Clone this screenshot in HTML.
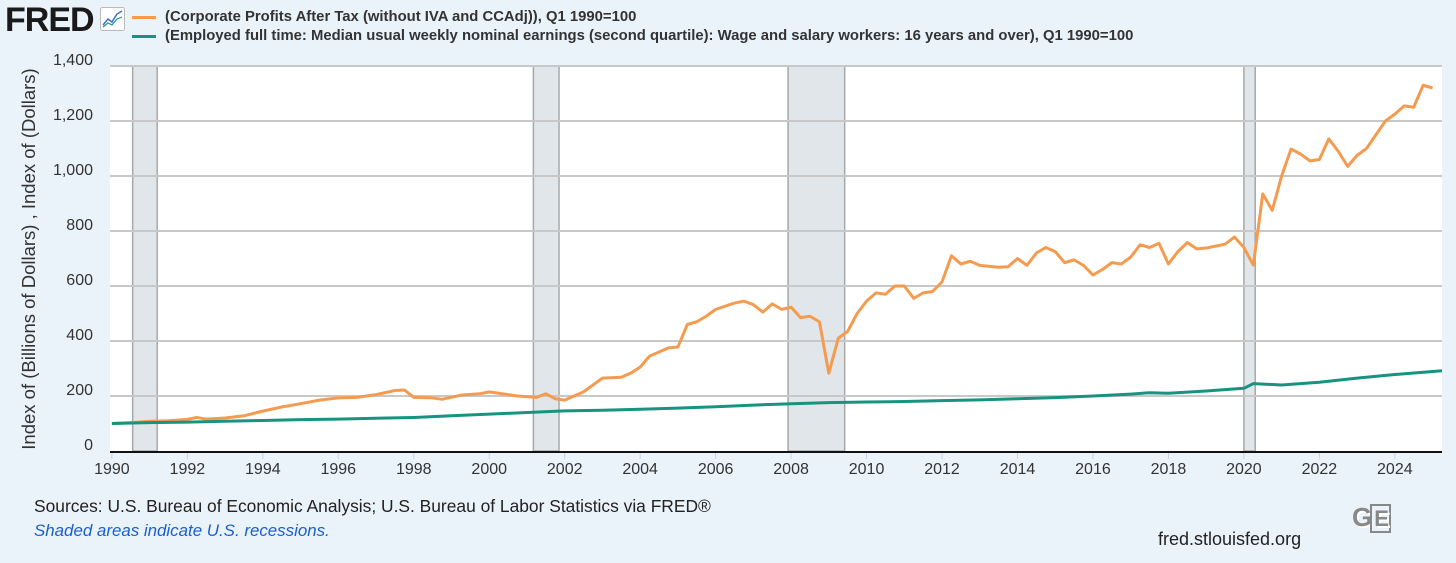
<!DOCTYPE html>
<html><head><meta charset="utf-8"><style>
body{margin:0;width:1456px;height:563px;background:#eaf2fa;font-family:"Liberation Sans",sans-serif;overflow:hidden;position:relative}
.t{position:absolute;white-space:nowrap}
</style></head><body>
<div class="t" style="left:5px;top:1px;font-size:34px;font-weight:bold;letter-spacing:-1px;color:#1a1a1a">FRED</div>
<svg class="t" style="left:100px;top:7px" width="25" height="24"><rect x="0.5" y="0.5" width="24" height="23" rx="2" fill="#fff" stroke="#bbb"/><polyline points="3,18 8,12 12,15 17,7 22,4" fill="none" stroke="#3b6fd1" stroke-width="1.5"/><polyline points="3,20 8,16 12,18 17,12 22,10" fill="none" stroke="#1f9a7a" stroke-width="1.2"/></svg>
<div class="t" style="left:132px;top:9px;font-size:14.85px;font-weight:bold;color:#333"><span style="display:inline-block;width:24px;height:3px;background:#f59b50;vertical-align:middle;margin-right:9px"></span>(Corporate Profits After Tax (without IVA and CCAdj)), Q1 1990=100</div>
<div class="t" style="left:132px;top:28px;font-size:14.85px;font-weight:bold;color:#333"><span style="display:inline-block;width:24px;height:3px;background:#17937f;vertical-align:middle;margin-right:9px"></span>(Employed full time: Median usual weekly nominal earnings (second quartile): Wage and salary workers: 16 years and over), Q1 1990=100</div>
<div class="t" style="left:29px;top:259px;font-size:18.5px;color:#333;transform:translate(-50%,-50%) rotate(-90deg)">Index of (Billions of Dollars) , Index of (Dollars)</div>
<svg id="chart" class="t" style="left:0;top:0" width="1456" height="480"></svg>
<div class="t" style="left:34px;top:496px;font-size:17.4px;color:#222">Sources: U.S. Bureau of Economic Analysis; U.S. Bureau of Labor Statistics via FRED®</div>
<div class="t" style="left:34px;top:521px;font-size:16.9px;color:#1a5fd0;font-style:italic">Shaded areas indicate U.S. recessions.</div>
<div class="t" style="left:1158px;top:529px;font-size:18px;color:#222">fred.stlouisfed.org</div>
<div class="t" style="left:1352px;top:502px;font-size:26px;font-weight:bold;color:#888;text-shadow:2px 2px 0 #fff;letter-spacing:-2px">G<span style="border:2px solid #888;padding:0 2px;font-size:22px">E</span></div>
<script>
const yTicks=[0,200,400,600,800,1000,1200,1400];
const yTickLabels=["0","200","400","600","800","1,000","1,200","1,400"];
const xTicks=[1990,1992,1994,1996,1998,2000,2002,2004,2006,2008,2010,2012,2014,2016,2018,2020,2022,2024];
const recessionStarts=[1990.55,2001.17,2007.92,2020.0];
const recessionEnds=[1991.2,2001.85,2009.42,2020.3];
const profitDates=[1990,1990.5,1991,1991.5,1992,1992.25,1992.5,1993,1993.5,1994,1994.5,1995,1995.5,1996,1996.5,1997,1997.5,1997.75,1998,1998.5,1998.75,1999.25,1999.75,2000,2000.5,2000.75,2001.25,2001.5,2001.75,2002,2002.5,2003,2003.5,2003.75,2004,2004.25,2004.75,2005,2005.25,2005.5,2005.75,2006,2006.5,2006.75,2007,2007.25,2007.5,2007.75,2008,2008.25,2008.5,2008.75,2009,2009.25,2009.5,2009.75,2010,2010.25,2010.5,2010.75,2011,2011.25,2011.5,2011.75,2012,2012.25,2012.5,2012.75,2013,2013.5,2013.75,2014,2014.25,2014.5,2014.75,2015,2015.25,2015.5,2015.75,2016,2016.25,2016.5,2016.75,2017,2017.25,2017.5,2017.75,2018,2018.25,2018.5,2018.75,2019,2019.25,2019.5,2019.75,2020,2020.25,2020.5,2020.75,2021,2021.25,2021.5,2021.75,2022,2022.25,2022.5,2022.75,2023,2023.25,2023.5,2023.75,2024,2024.25,2024.5,2024.75,2025];
const profitValues=[100,103,108,110,115,122,116,120,128,145,160,172,185,193,195,205,220,222,195,193,188,203,208,215,205,200,195,208,190,185,215,265,268,283,305,345,375,378,460,470,490,515,538,545,532,505,535,515,523,485,490,470,283,410,435,500,545,575,570,600,600,555,575,580,615,710,680,690,675,668,670,700,675,720,740,725,685,695,675,640,660,685,680,705,750,740,755,680,725,758,735,738,745,752,778,740,676,935,875,1000,1098,1080,1055,1060,1135,1090,1035,1075,1100,1150,1200,1225,1255,1250,1330,1320];
const wageDates=[1990,1991,1992,1993,1994,1995,1996,1997,1998,1999,2000,2001,2002,2003,2004,2005,2006,2007,2008,2009,2010,2011,2012,2013,2014,2015,2016,2017,2017.5,2018,2019,2020,2020.25,2021,2022,2023,2024,2025.25];
const wageValues=[100,103,105,108,111,114,116,119,122,128,134,140,146,148,152,156,161,167,172,176,178,180,183,186,190,194,200,207,212,210,218,228,245,240,250,265,278,292];
const L=110,R=1442,T=66,B=451,X0=1989.95,X1=2025.25;
const xs=v=>L+(v-X0)/(X1-X0)*(R-L);
const ys=v=>B-v/1400*(B-T);
const svg=document.getElementById('chart');
const NS='http://www.w3.org/2000/svg';
function mk(tag,a){const e=document.createElementNS(NS,tag);for(const k in a)e.setAttribute(k,a[k]);svg.appendChild(e);return e;}
const bg=mk('rect',{x:L,y:T,width:R-L,height:B-T,fill:'#fff'});


recessionStarts.forEach((s,i)=>{
 const r=mk('rect',{x:xs(s),y:T,width:xs(recessionEnds[i])-xs(s),height:B-T,fill:'#e1e6eb',stroke:'#a8a8a8','stroke-width':1.5});
 
 
});
yTicks.forEach((v,i)=>{
 if(v>0){const g=mk('line',{x1:L,x2:R,y1:ys(v),y2:ys(v),stroke:'#c8c8c8','stroke-width':2});
 
 }
 const t=mk('text',{x:93,y:ys(v)-1,'text-anchor':'end','font-size':16,fill:'#333','font-family':'Liberation Sans'});
 t.textContent=yTickLabels[i];
 
 
});
xTicks.forEach(v=>{
 const tk=mk('line',{x1:xs(v),x2:xs(v),y1:B,y2:B+8,stroke:'#c5d3e6','stroke-width':1});
 
 
 const t=mk('text',{x:xs(v),y:474,'text-anchor':'middle','font-size':16,fill:'#333','font-family':'Liberation Sans'});
 t.textContent=v;
 
 
});
const ax=mk('line',{x1:L,x2:R,y1:B+1,y2:B+1,stroke:'#111','stroke-width':2});


const p1=mk('polyline',{points:profitDates.map((d,i)=>xs(d)+','+ys(profitValues[i])).join(' '),fill:'none',stroke:'#f59b50','stroke-width':3,'stroke-linejoin':'round'});


const p2=mk('polyline',{points:wageDates.map((d,i)=>xs(d)+','+ys(wageValues[i])).join(' '),fill:'none',stroke:'#17937f','stroke-width':3,'stroke-linejoin':'round'});


</script>
</body></html>
